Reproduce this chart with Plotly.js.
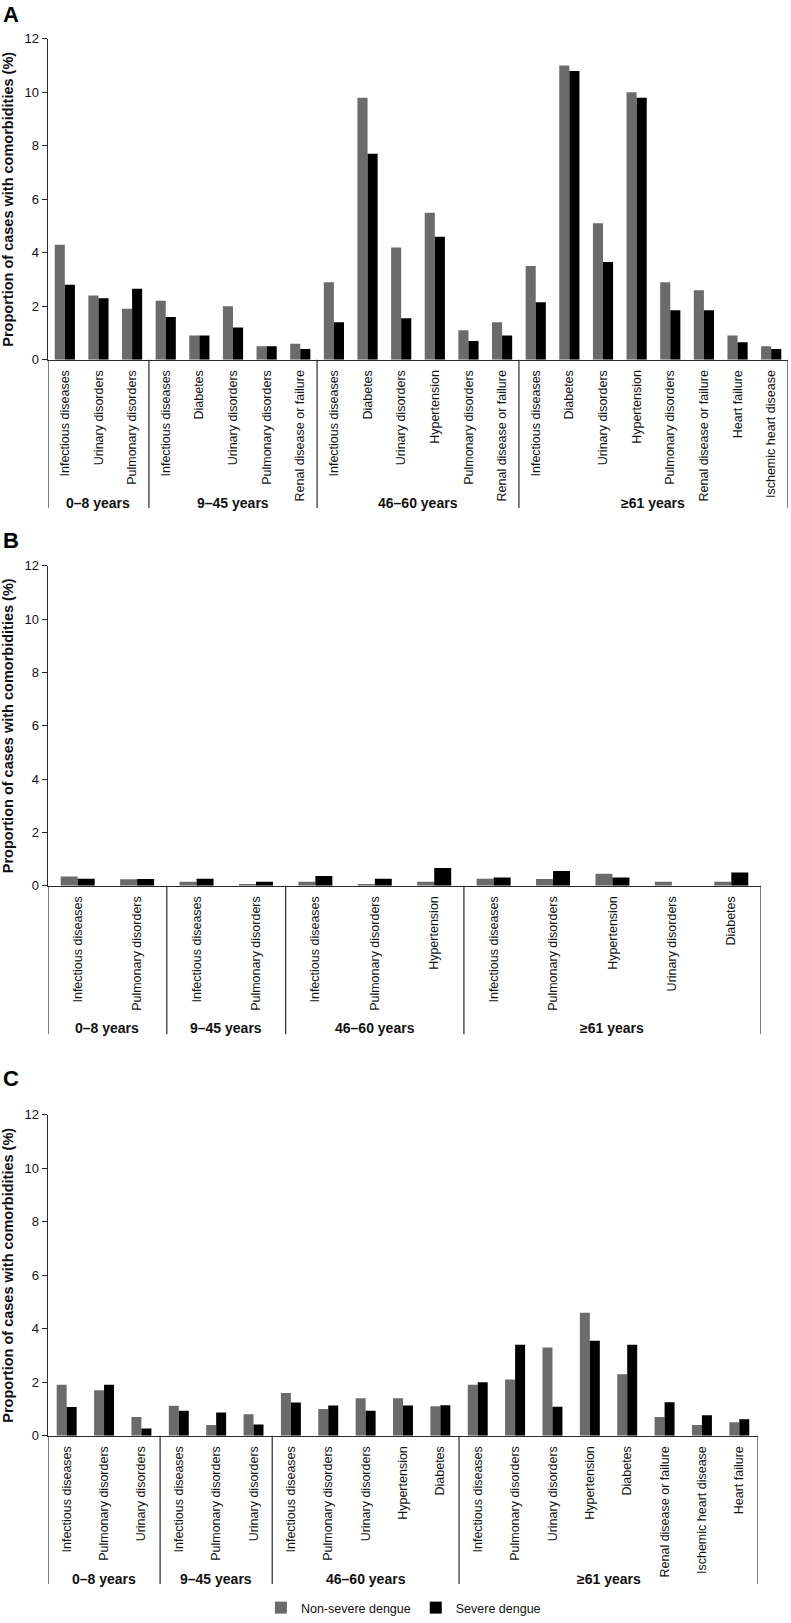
<!DOCTYPE html>
<html><head><meta charset="utf-8">
<script src="https://cdn.plot.ly/plotly-3.0.1.min.js"></script>
<style>html,body{margin:0;padding:0;background:#fff}</style>
</head><body><div id="chart" style="width:791px;height:1623px"></div>
<script>
// ---------- DATA ----------
const seriesNames = ['Non-severe dengue', 'Severe dengue'];

const groupA = ['0–8 years','0–8 years','0–8 years',
  '9–45 years','9–45 years','9–45 years','9–45 years','9–45 years',
  '46–60 years','46–60 years','46–60 years','46–60 years','46–60 years','46–60 years',
  '≥61 years','≥61 years','≥61 years','≥61 years','≥61 years','≥61 years','≥61 years','≥61 years'];
const catA = ['Infectious diseases','Urinary disorders','Pulmonary disorders',
  'Infectious diseases','Diabetes','Urinary disorders','Pulmonary disorders','Renal disease or failure',
  'Infectious diseases','Diabetes','Urinary disorders','Hypertension','Pulmonary disorders','Renal disease or failure',
  'Infectious diseases','Diabetes','Urinary disorders','Hypertension','Pulmonary disorders','Renal disease or failure','Heart failure','Ischemic heart disease'];
const nonSevereA = [4.3,2.4,1.9, 2.2,0.9,2.0,0.5,0.6, 2.9,9.8,4.2,5.5,1.1,1.4, 3.5,11.0,5.1,10.0,2.9,2.6,0.9,0.5];
const severeA    = [2.8,2.3,2.65, 1.6,0.9,1.2,0.5,0.4, 1.4,7.7,1.55,4.6,0.7,0.9, 2.15,10.8,3.65,9.8,1.85,1.85,0.65,0.4];

const groupB = ['0–8 years','0–8 years',
  '9–45 years','9–45 years',
  '46–60 years','46–60 years','46–60 years',
  '≥61 years','≥61 years','≥61 years','≥61 years','≥61 years'];
const catB = ['Infectious diseases','Pulmonary disorders',
  'Infectious diseases','Pulmonary disorders',
  'Infectious diseases','Pulmonary disorders','Hypertension',
  'Infectious diseases','Pulmonary disorders','Hypertension','Urinary disorders','Diabetes'];
const nonSevereB = [0.35,0.24, 0.15,0.06, 0.15,0.06,0.15, 0.26,0.25,0.45,0.15,0.15];
const severeB    = [0.26,0.25, 0.26,0.15, 0.36,0.26,0.66, 0.31,0.55,0.31,0,0.5];

const groupC = ['0–8 years','0–8 years','0–8 years',
  '9–45 years','9–45 years','9–45 years',
  '46–60 years','46–60 years','46–60 years','46–60 years','46–60 years',
  '≥61 years','≥61 years','≥61 years','≥61 years','≥61 years','≥61 years','≥61 years','≥61 years'];
const catC = ['Infectious diseases','Pulmonary disorders','Urinary disorders',
  'Infectious diseases','Pulmonary disorders','Urinary disorders',
  'Infectious diseases','Pulmonary disorders','Urinary disorders','Hypertension','Diabetes',
  'Infectious diseases','Pulmonary disorders','Urinary disorders','Hypertension','Diabetes','Renal disease or failure','Ischemic heart disease','Heart failure'];
const nonSevereC = [1.9,1.7,0.7, 1.12,0.4,0.8, 1.6,1.0,1.4,1.4,1.1, 1.9,2.1,3.3,4.6,2.3,0.7,0.4,0.5];
const severeC    = [1.07,1.9,0.27, 0.93,0.87,0.42, 1.24,1.13,0.93,1.13,1.14, 2.0,3.4,1.08,3.55,3.4,1.25,0.76,0.61];

const yTitle = 'Proportion of cases with comorbidities (%)';
const panelLetters = ['A','B','C'];

// ---------- LAYOUT HELPERS ----------
const W = 791, H = 1623;
const FONT = '"Liberation Sans", Arial, Helvetica, sans-serif';
const GREY = '#6b6b6b', BLACK = '#000000', LINE = '#2a2a2a';
const px = v => v / W;
const py = v => 1 - v / H;

const panels = [
  {groups: groupA, cats: catA, ns: nonSevereA, sv: severeA, x0: 48, x1: 788, yTop: 39, yBot: 361, divBot: 510, grpY: 505, letterY: 14.5, barW: 0.30},
  {groups: groupB, cats: catB, ns: nonSevereB, sv: severeB, x0: 48, x1: 761, yTop: 568, yBot: 889, divBot: 1038, grpY: 1032, letterY: 542.5, barW: 0.286},
  {groups: groupC, cats: catC, ns: nonSevereC, sv: severeC, x0: 48, x1: 758, yTop: 1119, yBot: 1441, divBot: 1590, grpY: 1584.5, letterY: 1083, barW: 0.267}
];

const data = [];
const layout = {
  width: W, height: H,
  margin: {l: 0, r: 0, t: 0, b: 0, pad: 0},
  paper_bgcolor: '#fff', plot_bgcolor: '#fff',
  font: {family: FONT, color: '#111', size: 12},
  barmode: 'overlay',
  showlegend: true,
  legend: {orientation: 'h', x: 0.51, xanchor: 'center', y: py(1614), yanchor: 'middle',
           font: {size: 12.5, family: FONT, color: '#111'}, itemwidth: 30, tracegroupgap: 0},
  shapes: [], annotations: []
};

panels.forEach((p, k) => {
  const sfx = k === 0 ? '' : String(k + 1);
  const xa = 'x' + sfx, ya = 'y' + sfx;
  const idx = p.cats.map((_, i) => i);
  data.push({type: 'bar', name: seriesNames[0], x: idx, y: p.ns, xaxis: xa, yaxis: ya,
    width: p.barW, offset: -p.barW, marker: {color: GREY, line: {width: 0}},
    showlegend: k === 2, legendgroup: 'ns', hoverinfo: 'skip'});
  data.push({type: 'bar', name: seriesNames[1], x: idx, y: p.sv, xaxis: xa, yaxis: ya,
    width: p.barW, offset: 0, marker: {color: BLACK, line: {width: 0}},
    showlegend: k === 2, legendgroup: 'sv', hoverinfo: 'skip'});

  layout['xaxis' + sfx] = {
    domain: [px(p.x0), px(p.x1)], anchor: ya,
    range: [-0.5, p.cats.length - 0.5],
    tickmode: 'array', tickvals: idx, ticktext: p.cats, tickangle: -90,
    ticks: '', showgrid: false, zeroline: false,
    showline: true, linecolor: LINE, linewidth: 1.5,
    tickfont: {size: 12.5, family: FONT, color: '#111'}, ticklabelstandoff: 4,
    fixedrange: true
  };
  layout['yaxis' + sfx] = {
    domain: [py(p.yBot), py(p.yTop)], anchor: xa,
    range: [0, 12], tickmode: 'linear', tick0: 0, dtick: 2,
    ticks: 'outside', ticklen: 5, tickwidth: 1, tickcolor: LINE,
    showline: true, linecolor: LINE, linewidth: 1.5,
    showgrid: false, zeroline: false,
    tickfont: {size: 13, family: FONT, color: '#111'},
    title: {text: yTitle, font: {size: 14.5, family: FONT, color: '#111', weight: 'bold'}, standoff: 7},
    fixedrange: true
  };

  // group dividers and labels from the group array
  const bounds = [-0.5];
  const starts = [0];
  for (let i = 1; i < p.groups.length; i++) {
    if (p.groups[i] !== p.groups[i - 1]) { bounds.push(i - 0.5); starts.push(i); }
  }
  bounds.push(p.groups.length - 0.5);
  bounds.forEach(b => {
    layout.shapes.push({type: 'line', xref: xa, yref: 'paper', x0: b, x1: b,
      y0: py(p.yBot), y1: py(p.divBot), line: {color: LINE, width: 1.2}});
  });
  starts.forEach((s, j) => {
    const e = (j + 1 < starts.length ? starts[j + 1] : p.groups.length) - 1;
    layout.annotations.push({xref: xa, yref: 'paper', x: (s + e) / 2, y: py(p.grpY),
      xanchor: 'center', yanchor: 'middle', showarrow: false, text: p.groups[s],
      font: {size: 14, family: FONT, color: '#111', weight: 'bold'}});
  });
  layout.annotations.push({xref: 'paper', yref: 'paper', x: px(1), y: py(p.letterY),
    xanchor: 'left', yanchor: 'middle', showarrow: false, text: panelLetters[k],
    font: {size: 22, family: FONT, color: '#000', weight: 'bold'}});
});

Plotly.newPlot('chart', data, layout, {displayModeBar: false, staticPlot: true});
</script>
</body></html>
